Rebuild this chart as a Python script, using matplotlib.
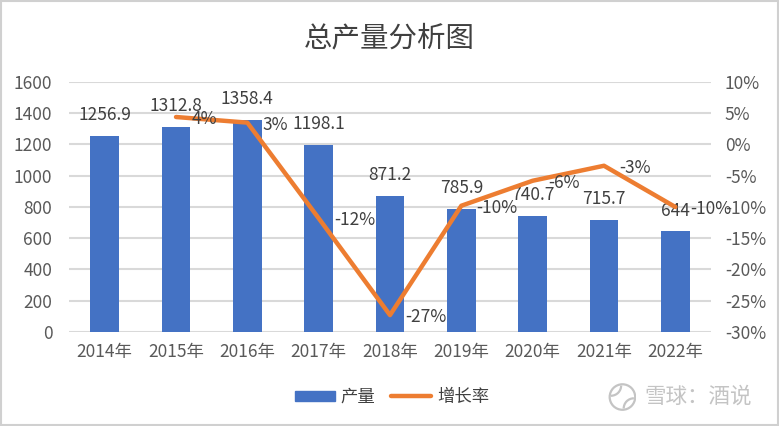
import matplotlib
matplotlib.use("Agg")
import matplotlib.pyplot as plt
from matplotlib.patches import Rectangle, Circle, Arc
from matplotlib.lines import Line2D
from matplotlib.ticker import FuncFormatter

plt.rcParams['font.family'] = ['Noto Sans CJK SC', 'DejaVu Sans']

years = ['2014年', '2015年', '2016年', '2017年', '2018年', '2019年', '2020年', '2021年', '2022年']
output = [1256.9, 1312.8, 1358.4, 1198.1, 871.2, 785.9, 740.7, 715.7, 644]
output_labels = ['1256.9', '1312.8', '1358.4', '1198.1', '871.2', '785.9', '740.7', '715.7', '644']
growth_years = years[1:]
growth = [4.4, 3.5, -11.8, -27.3, -9.8, -5.8, -3.4, -10.0]
growth_labels = ['4%', '3%', '-12%', '-27%', '-10%', '-6%', '-3%', '-10%']

BLUE = '#4472C4'
ORANGE = '#ED7D31'
GRID = '#D9D9D9'
TXT = '#404040'
TICK = '#595959'
WM = '#C4C4C4'

fig = plt.figure(figsize=(7.79, 4.26), dpi=100)
ax = fig.add_axes([0.0886, 0.2207, 0.8241, 0.5868])
ax2 = ax.twinx()

x = list(range(len(years)))
ax.bar(x, output, width=0.4, color=BLUE, zorder=2)
ax.set_ylim(0, 1600)
ax.set_yticks(range(0, 1601, 200))
ax.set_xlim(-0.5, len(years) - 0.5)
ax.set_xticks(x)
ax.set_xticklabels(years)
ax.yaxis.grid(True, color=GRID, linewidth=1.5, zorder=0)
ax.set_axisbelow(True)
for s in ax.spines.values():
    s.set_visible(False)
for s in ax2.spines.values():
    s.set_visible(False)
ax.tick_params(axis='both', length=0, labelsize=12.5, colors=TICK)
ax.tick_params(axis='y', pad=12)
ax.tick_params(axis='x', pad=8)

for xi, v, lab in zip(x, output, output_labels):
    ax.annotate(lab, (xi, v), xytext=(0, 8.5), textcoords='offset points',
                ha='center', va='bottom', fontsize=12.5, color=TXT, zorder=5)

gx = x[1:]
ax2.plot(gx, growth, color=ORANGE, linewidth=3.2, solid_capstyle='round',
         solid_joinstyle='round', zorder=3)
ax2.set_ylim(-30, 10)
ax2.set_yticks(range(-30, 11, 5))
ax2.yaxis.set_major_formatter(FuncFormatter(lambda v, p: f'{int(v)}%'))
ax2.tick_params(axis='y', length=0, labelsize=12.5, colors=TICK, pad=10)
for xi, v, lab in zip(gx, growth, growth_labels):
    ax2.annotate(lab, (xi, v), xytext=(11, -1.5), textcoords='offset points',
                 ha='left', va='center', fontsize=12.5, color=TXT, zorder=5)

fig.text(0.5, 0.911, '总产量分析图', ha='center', va='center', fontsize=20.5, color='#404040')

# legend
handles = [Rectangle((0, 0), 1, 1, color=BLUE),
           Line2D([0], [0], color=ORANGE, linewidth=3.2, solid_capstyle='round')]
fig.legend(handles, ['产量', '增长率'], loc='center', bbox_to_anchor=(0.503, 0.068),
           ncol=2, frameon=False, fontsize=12.5, handlelength=2.3, handleheight=0.5,
           columnspacing=0.9, handletextpad=0.35, labelcolor=TXT)

# watermark
fig.text(0.965, 0.068, '雪球：酒说', ha='right', va='center', fontsize=15.5, color=WM)
lax = fig.add_axes([0.781, 0.033, 0.036, 0.07])
lax.set_xlim(-1.1, 1.1)
lax.set_ylim(-1.1, 1.1)
lax.set_aspect('equal')
lax.axis('off')
lax.add_patch(Circle((0, 0), 1.0, fill=False, edgecolor=WM, linewidth=1.6))
lax.add_patch(Arc((-0.9, 0.9), 1.6, 1.6, theta1=270, theta2=360, edgecolor=WM, linewidth=1.6))
lax.add_patch(Arc((0.9, -0.9), 1.6, 1.6, theta1=90, theta2=180, edgecolor=WM, linewidth=1.6))

# chart border
fig.patches.append(Rectangle((0.001, 0.002), 0.998, 0.996, transform=fig.transFigure,
                             fill=False, edgecolor='#D0D0D0', linewidth=1.5))

fig.savefig('out.png', dpi=100)
